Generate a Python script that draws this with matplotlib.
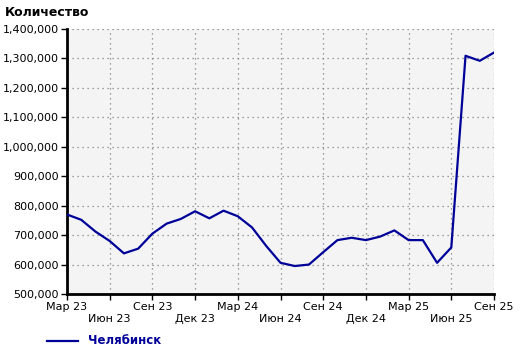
import numpy as np
import matplotlib
matplotlib.use("Agg")
import matplotlib.pyplot as plt
from matplotlib.ticker import FuncFormatter
from matplotlib.lines import Line2D

# monthly values, Mar 2023 .. Sep 2025
months = ["Мар 23", "Апр 23", "Май 23", "Июн 23", "Июл 23", "Авг 23", "Сен 23", "Окт 23",
          "Ноя 23", "Дек 23", "Янв 24", "Фев 24", "Мар 24", "Апр 24", "Май 24", "Июн 24",
          "Июл 24", "Авг 24", "Сен 24", "Окт 24", "Ноя 24", "Дек 24", "Янв 25", "Фев 25",
          "Мар 25", "Апр 25", "Май 25", "Июн 25", "Июл 25", "Авг 25", "Сен 25"]
chelyabinsk = [770000, 752000, 712000, 680000, 638000, 654000, 705000, 739000,
               755000, 781000, 757000, 783000, 764000, 726000, 663000, 606000,
               595000, 600000, 642000, 683000, 691000, 683000, 695000, 716000,
               683000, 683000, 606000, 658000, 1309000, 1292000, 1320000]
series_name = "Челябинск"
y_ticks = [500000, 600000, 700000, 800000, 900000, 1000000, 1100000, 1200000, 1300000, 1400000]

line_color = "#000099"

fig = plt.figure(figsize=(5.2, 3.53), dpi=100)
ax = fig.add_axes([67 / 520, 1 - 294 / 353, (494 - 67) / 520, (294 - 29) / 353])
ax.set_facecolor("#f4f4f4")

x = np.arange(len(months))
ax.plot(x, chelyabinsk, color=line_color, lw=1.6, zorder=3)

ax.set_xlim(0, len(months) - 1)
ax.set_ylim(y_ticks[0], y_ticks[-1])
ax.set_yticks(y_ticks)
ax.yaxis.set_major_formatter(FuncFormatter(lambda v, p: f"{int(v):,}"))

tick_pos = x[::3]
tick_labels = []
for i, p in enumerate(tick_pos):
    lab = months[p]
    tick_labels.append(lab if i % 2 == 0 else "\n" + lab)
ax.set_xticks(tick_pos)
ax.set_xticklabels(tick_labels, linespacing=1.25)

ax.grid(True, color="#808080", linestyle=(0, (1, 3)), linewidth=0.9)
for s in ["top", "right"]:
    ax.spines[s].set_visible(False)
for s in ["left", "bottom"]:
    ax.spines[s].set_linewidth(2)
    ax.spines[s].set_color("black")
ax.tick_params(axis="both", length=4, width=1, labelsize=8, color="black", pad=2)

fig.text(5 / 520, 1 - 12 / 353, "Количество", fontsize=9, fontweight="bold", va="center", ha="left")

# legend below the plot
fig.add_artist(Line2D([47 / 520, 78 / 520], [1 - 341 / 353, 1 - 341 / 353],
                      color=line_color, lw=1.6, transform=fig.transFigure))
fig.text(88 / 520, 1 - 341 / 353, series_name, fontsize=8.5, fontweight="bold",
         color=line_color, va="center", ha="left")

fig.savefig("out.png", dpi=100)
